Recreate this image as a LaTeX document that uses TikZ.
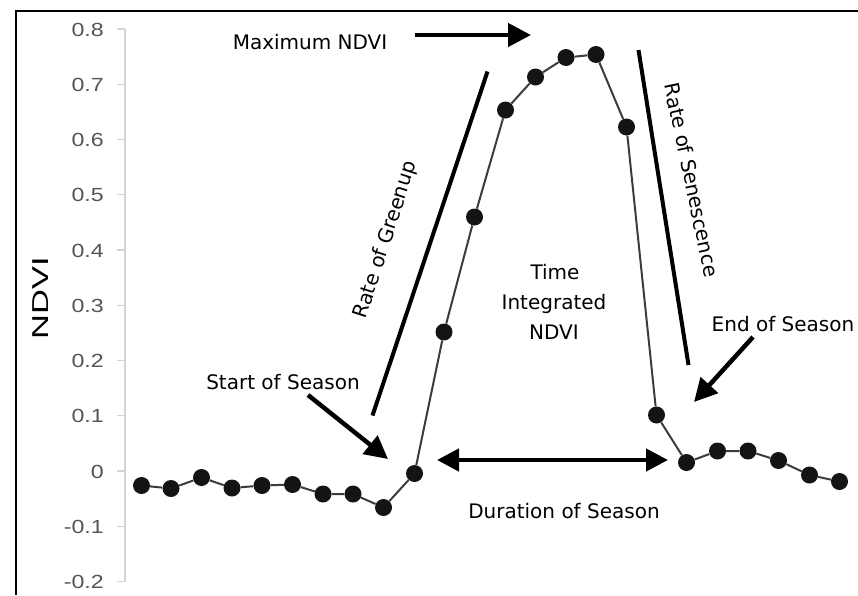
\documentclass[tikz,border=0pt]{standalone}
\usepackage{fontspec}
\setmainfont{DejaVu Sans}
\newfontfamily\axisfont{Liberation Sans}
\usetikzlibrary{arrows.meta}
\definecolor{tickgray}{HTML}{555555}
\definecolor{axisgray}{HTML}{D4D4D4}
\definecolor{linegray}{HTML}{3C3C3C}
\tikzset{
  dot/.style={circle, fill=black!92, inner sep=0pt, minimum size=17pt},
  series/.style={draw=linegray, line width=2pt},
  ticklbl/.style={anchor=base east, text=tickgray, font=\axisfont\fontsize{19}{19}\selectfont, inner sep=0pt},
  annot/.style={font=\fontsize{20}{24}\selectfont, inner sep=0pt},
  bigarrow/.style={line width=4.5pt, -{Triangle[length=23pt,width=23pt]}},
  dblarrow/.style={line width=4.5pt, {Triangle[length=22pt,width=22pt]}-{Triangle[length=22pt,width=22pt]}},
  rateline/.style={line width=4pt},
}
\begin{document}
\begin{tikzpicture}[x=1pt,y=-1pt]
\useasboundingbox (0,0) rectangle (858,595);
\fill[white] (0,0) rectangle (858,595);
% frame
\draw[line width=2.5pt] (16,595) -- (16,11) -- (858,11);
% axis
\draw[axisgray, line width=1.5pt] (125,29) -- (125,581.5);
\foreach \v/\t [count=\k] in {0.8/0.8,0.7/0.7,0.6/0.6,0.5/0.5,0.4/0.4,0.3/0.3,0.2/0.2,0.1/0.1,0/0,-0.1/-0.1,-0.2/-0.2}{
  \draw[axisgray, line width=1.2pt] (117,{471-\v*552.5}) -- (125,{471-\v*552.5});
  \node[ticklbl] (tick\k) at (104,{478-\v*552.5}) {\scalebox{1.22}[1]{\t}};
}
\node[rotate=90, font=\axisfont\fontsize{23}{23}\selectfont, inner sep=0pt] (ylab) at (41,298) {\scalebox{1.5}[1]{NDVI}};
% data points
\foreach \x/\y [count=\i] in {141.5/485.5,171/488.5,201.5/477.5,232/488,262/485.5,292.5/484.5,323/494,353/494,383.5/507.5,414.5/473.5,444/332,474.5/217,505.5/110,535.5/77,566/57.5,596/54.5,626.5/127,656.5/415,686.5/462.5,717.5/451,748/451,778.5/460.5,809.5/475,839.5/481.5}{
  \node[dot] (p\i) at (\x,\y) {};
}
\draw[series] (p1) -- (p2) -- (p3) -- (p4) -- (p5) -- (p6) -- (p7) -- (p8)
  -- (p9) -- (p10) -- (p11) -- (p12) -- (p13) -- (p14) -- (p15) -- (p16)
  -- (p17) -- (p18) -- (p19) -- (p20) -- (p21) -- (p22) -- (p23) -- (p24);
% rate lines
\coordinate (gA) at (372.5,415.5);
\coordinate (gB) at (487.5,71.5);
\draw[rateline] (gA) -- (gB);
\coordinate (sA) at (638.5,50);
\coordinate (sB) at (688.5,365);
\draw[rateline] (sA) -- (sB);
% labels
\node[annot, anchor=base] (maxlbl) at (310,49) {Maximum NDVI};
\coordinate (maxA) at (415,35);
\coordinate (maxB) at (531,35);
\draw[bigarrow] (maxA) -- (maxB);
\node[annot, rotate=72] (green) at (386,240) {Rate of Greenup};
\node[annot, rotate=-78] (sen) at (692,180) {Rate of Senescence};
\node[annot, anchor=base] (time1) at (555,279) {Time};
\node[annot, anchor=base] (time2) at (554,309) {Integrated};
\node[annot, anchor=base] (time3) at (554,339) {NDVI};
\node[annot, anchor=base] (startlbl) at (283,389) {Start of Season};
\coordinate (stA) at (308,395);
\coordinate (stB) at (388,459);
\draw[bigarrow] (stA) -- (stB);
\node[annot, anchor=base] (endlbl) at (783,331) {End of Season};
\coordinate (enA) at (753,337);
\coordinate (enB) at (694,402);
\draw[bigarrow] (enA) -- (enB);
\coordinate (duA) at (437,460);
\coordinate (duB) at (668,460);
\draw[dblarrow] (duA) -- (duB);
\node[annot, anchor=base] (durlbl) at (564,518) {Duration of Season};
\end{tikzpicture}
\end{document}
